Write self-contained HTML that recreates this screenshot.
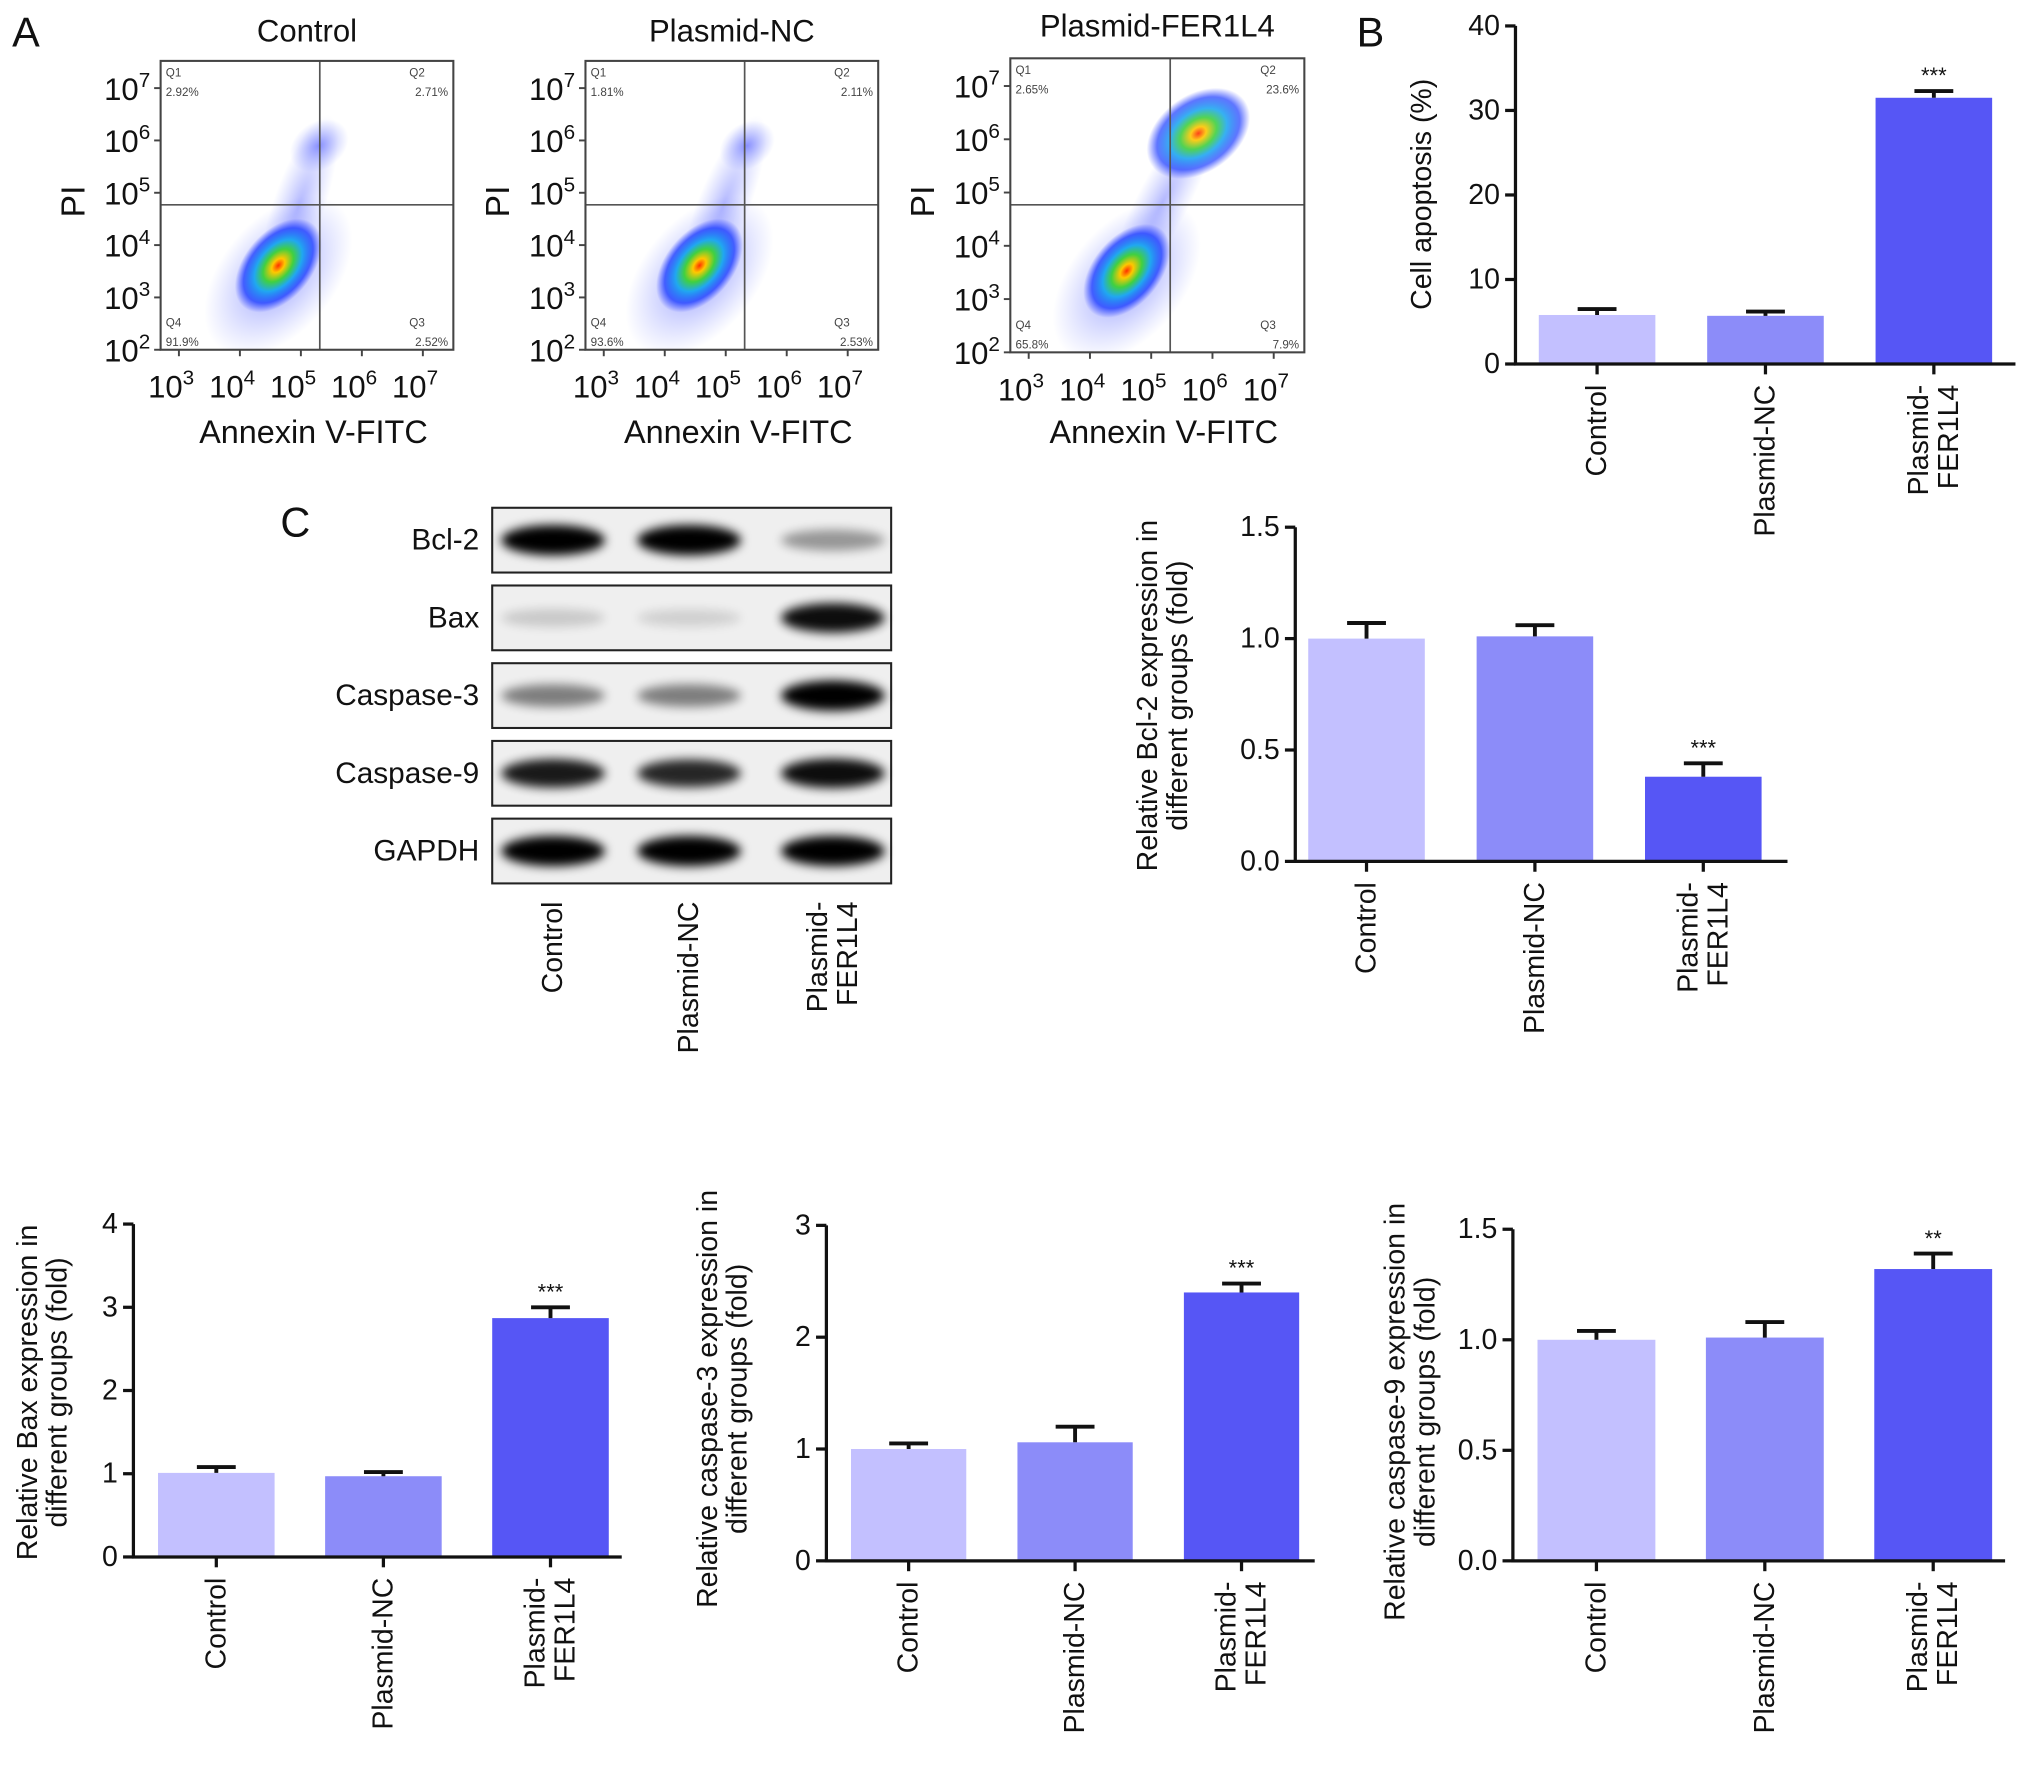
<!DOCTYPE html>
<html><head><meta charset="utf-8"><style>
html,body{margin:0;padding:0;background:#fff}
svg{display:block;font-family:"Liberation Sans",sans-serif}
</style></head><body>
<svg id="fig" width="2031" height="1765" viewBox="0 0 1568 1362.6" xmlns="http://www.w3.org/2000/svg">
<defs>
<radialGradient id="dens" cx="50%" cy="50%" r="50%">
<stop offset="0" stop-color="#ff3000"/><stop offset="0.15" stop-color="#ffc800"/>
<stop offset="0.35" stop-color="#40d040"/><stop offset="0.55" stop-color="#20a8f0"/>
<stop offset="0.8" stop-color="#2040ff" stop-opacity="0.8"/><stop offset="1" stop-color="#3040ff" stop-opacity="0"/>
</radialGradient>
<radialGradient id="halo" cx="50%" cy="50%" r="50%">
<stop offset="0" stop-color="#3a46ff" stop-opacity="0.55"/><stop offset="1" stop-color="#6070ff" stop-opacity="0"/>
</radialGradient>
<filter id="blur" x="-30%" y="-60%" width="160%" height="220%"><feGaussianBlur stdDeviation="4"/></filter>
</defs>
<g id="root"></g>
</svg>
<script>
const categories=["Control","Plasmid-NC","Plasmid-FER1L4"];
const apoptosisValues=[5.8,5.7,31.5];
const apoptosisErr=[0.7,0.5,0.8];
const apoptosisSig=["","","***"];
const bcl2Values=[1.0,1.01,0.38];
const bcl2Err=[0.07,0.05,0.06];
const bcl2Sig=["","","***"];
const baxValues=[1.01,0.97,2.87];
const baxErr=[0.07,0.05,0.13];
const baxSig=["","","***"];
const casp3Values=[1.0,1.06,2.4];
const casp3Err=[0.05,0.14,0.08];
const casp3Sig=["","","***"];
const casp9Values=[1.0,1.01,1.32];
const casp9Err=[0.04,0.07,0.07];
const casp9Sig=["","","**"];
const apoTicks=[0,10,20,30,40];
const foldTicks15=["0.0","0.5","1.0","1.5"];
const baxTicks=[0,1,2,3,4];
const casp3Ticks=[0,1,2,3];
const flowTitles=["Control","Plasmid-NC","Plasmid-FER1L4"];
const flowQ1=["2.92%","1.81%","2.65%"];
const flowQ2=["2.71%","2.11%","23.6%"];
const flowQ3=["2.52%","2.53%","7.9%"];
const flowQ4=["91.9%","93.6%","65.8%"];
const mainClusterX=[4.63,4.57,4.60];
const mainClusterY=[3.61,3.61,3.53];
const upperClusterX=[5.3,5.35,5.77];
const upperClusterY=[5.9,5.9,6.11];
const upperClusterStrength=[0.35,0.3,1.0];
const blotLabels=["Bcl-2","Bax","Caspase-3","Caspase-9","GAPDH"];
const blotIntensity=[[0.95,0.95,0.35],[0.15,0.12,0.9],[0.45,0.45,0.95],[0.85,0.8,0.9],[0.95,0.95,0.95]];
const barColors=["#c3c0ff","#8c8cf9","#5656f5"];

const NS="http://www.w3.org/2000/svg";
const root=document.getElementById('root');
function mk(tag,attrs,parent,text){const e=document.createElementNS(NS,tag);for(const k in attrs)e.setAttribute(k,attrs[k]);if(text!==undefined)e.textContent=text;(parent||root).appendChild(e);return e;}

function rotLabel(g,x,y,lines,size,name,anchor){
  const n=lines.length;
  lines.forEach((ln,i)=>{
    const dx=(i-(n-1)/2)*size*1.05;
    const t=mk('text',{transform:`translate(${x+dx},${y}) rotate(-90)`,'text-anchor':anchor||'end','dominant-baseline':'central','font-size':size,fill:'#111'},g,ln);
    
    
  });
}

function drawBar(cfg){
  const g=mk('g',{});
  
  
  const sy=v=>cfg.yBot-(v-0)/cfg.max*(cfg.yBot-cfg.yTop);
  cfg.values.forEach((v,i)=>{
    const bx=cfg.x0+cfg.off+i*cfg.step;
    const r=mk('rect',{x:bx,y:sy(v),width:cfg.barW,height:cfg.yBot-sy(v),fill:barColors[i]},g);
    
    
    const cx=bx+cfg.barW/2, top=sy(v+cfg.err[i]);
    const e=mk('path',{d:`M${cx},${sy(v)}V${top}M${cx-15},${top}H${cx+15}`,stroke:'#111','stroke-width':3,fill:'none'},g);
    
    
    if(cfg.sig[i]){const s=mk('text',{x:cx,y:top-6,'text-anchor':'middle','font-size':17,fill:'#111'},g,cfg.sig[i]);
      
      }
    mk('line',{x1:cx,x2:cx,y1:cfg.yBot,y2:cfg.yBot+8,stroke:'#111','stroke-width':2.5},g);
    rotLabel(g,cx,cfg.yBot+16,i==2?["Plasmid-","FER1L4"]:[categories[i]],22,'x-tick-label');
  });
  const ax=mk('path',{d:`M${cfg.x0},${cfg.yTop}V${cfg.yBot}H${cfg.xEnd}`,stroke:'#111','stroke-width':2.5,fill:'none'},g);
  
  
  cfg.ticks.forEach(t=>{
    const y=sy(parseFloat(t));
    mk('line',{x1:cfg.x0-8,x2:cfg.x0,y1:y,y2:y,stroke:'#111','stroke-width':2.5},g);
    const tl=mk('text',{x:cfg.x0-12,y:y,'text-anchor':'end','dominant-baseline':'central','font-size':22,fill:'#111'},g,t);
    
    
  });
  rotLabel(g,cfg.titleX,cfg.titleY,cfg.title,22,'y-axis-title','middle');
}

drawBar({name:'apoptosis-chart',x0:1170,yTop:20,yBot:281,xEnd:1556,max:40,off:18,step:130,barW:90,values:apoptosisValues,err:apoptosisErr,sig:apoptosisSig,ticks:apoTicks.map(String),title:["Cell apoptosis (%)"],titleX:1098,titleY:150});
drawBar({name:'bcl2-chart',x0:1000,yTop:407,yBot:665,xEnd:1380,max:1.5,off:10,step:130,barW:90,values:bcl2Values,err:bcl2Err,sig:bcl2Sig,ticks:foldTicks15,title:["Relative Bcl-2 expression in","different groups (fold)"],titleX:898,titleY:537});
drawBar({name:'bax-chart',x0:103,yTop:945,yBot:1202,xEnd:480,max:4,off:19,step:129,barW:90,values:baxValues,err:baxErr,sig:baxSig,ticks:baxTicks.map(String),title:["Relative Bax expression in","different groups (fold)"],titleX:33,titleY:1075});
drawBar({name:'caspase3-chart',x0:638,yTop:946,yBot:1205,xEnd:1015,max:3,off:19,step:128.5,barW:89,values:casp3Values,err:casp3Err,sig:casp3Sig,ticks:casp3Ticks.map(String),title:["Relative caspase-3 expression in","different groups (fold)"],titleX:558,titleY:1080});
drawBar({name:'caspase9-chart',x0:1168,yTop:949,yBot:1205,xEnd:1548,max:1.5,off:19,step:130,barW:91,values:casp9Values,err:casp9Err,sig:casp9Sig,ticks:foldTicks15,title:["Relative caspase-9 expression in","different groups (fold)"],titleX:1089,titleY:1090});

const flowBoxes=[{l:124,r:350,t:47,b:270},{l:452,r:678,t:47,b:270},{l:780,r:1007,t:45,b:272}];
flowBoxes.forEach((B,k)=>{
  const g=mk('g',{});
  
  
  const sx=v=>B.l+(v-2.7)/4.8*(B.r-B.l);
  const sy=v=>B.b-(v-2)/5.52*(B.b-B.t);
  const tt=mk('text',{x:(B.l+B.r)/2,y:k==2?28:32,'text-anchor':'middle','font-size':24,fill:'#111'},g,flowTitles[k]);
  
  
  const clip='clip'+k;
  const cp=mk('clipPath',{id:clip},g);mk('rect',{x:B.l,y:B.t,width:B.r-B.l,height:B.b-B.t},cp);
  const cg=mk('g',{'clip-path':`url(#${clip})`},g);
  const mx=sx(mainClusterX[k]),my=sy(mainClusterY[k]);
  const ux=sx(upperClusterX[k]),uy=sy(upperClusterY[k]);
  mk('ellipse',{cx:(mx+ux)/2,cy:(my+uy)/2,rx:Math.hypot(ux-mx,uy-my)/2+25,ry:20,fill:'url(#halo)',opacity:0.7,transform:`rotate(${Math.atan2(uy-my,ux-mx)*180/Math.PI},${(mx+ux)/2},${(my+uy)/2})`},cg);
  mk('ellipse',{cx:mx,cy:my+8,rx:72,ry:44,fill:'url(#halo)',transform:`rotate(-50,${mx},${my+8})`},cg);
  const c=mk('ellipse',{cx:mx,cy:my,rx:42,ry:26,fill:'url(#dens)',transform:`rotate(-50,${mx},${my})`},cg);
  
  
  const s=upperClusterStrength[k];
  mk('ellipse',{cx:ux,cy:uy,rx:30*s+14,ry:18*s+12,fill:s>0.5?'url(#dens)':'url(#halo)',opacity:s>0.5?0.9:1,transform:`rotate(-35,${ux},${uy})`},cg);
  const lx=sx(5.31),ly=sy(4.77);
  mk('path',{d:`M${lx},${B.t}V${B.b}M${B.l},${ly}H${B.r}`,stroke:'#555','stroke-width':1.3},g);
  const bx=mk('rect',{x:B.l,y:B.t,width:B.r-B.l,height:B.b-B.t,fill:'none',stroke:'#444','stroke-width':1.6},g);
  
  
  const q=[["Q1",flowQ1[k],B.l+4,B.t+12,'start'],["Q2",flowQ2[k],B.r-4,B.t+12,'end'],["Q4",flowQ4[k],B.l+4,B.b-18,'start'],["Q3",flowQ3[k],B.r-4,B.b-18,'end']];
  q.forEach(a=>{mk('text',{x:a[4]=='end'?a[2]-30:a[2],y:a[3],'font-size':9,fill:'#444'},g,a[0]);
    const qt=mk('text',{x:a[2],y:a[3]+15,'text-anchor':a[4],'font-size':9,fill:'#444'},g,a[1]);
    
    });
  for(let e=2;e<=7;e++){
    const y=sy(e);
    mk('line',{x1:B.l-5,x2:B.l,y1:y,y2:y,stroke:'#444','stroke-width':1.5},g);
    const t=mk('text',{x:B.l-8,y:y+9,'text-anchor':'end','font-size':24,fill:'#111'},g);
    
    
    mk('tspan',{},t,'10');mk('tspan',{dy:-10,'font-size':16},t,String(e));
  }
  for(let e=3;e<=7;e++){
    const x=sx(e);
    mk('line',{x1:x,x2:x,y1:B.b,y2:B.b+5,stroke:'#444','stroke-width':1.5},g);
    const t=mk('text',{x:x-6,y:B.b+37,'text-anchor':'middle','font-size':24,fill:'#111'},g);
    
    
    mk('tspan',{},t,'10');mk('tspan',{dy:-10,'font-size':16},t,String(e));
  }
  const xl=mk('text',{x:(B.l+B.r)/2+5,y:342,'text-anchor':'middle','font-size':25,fill:'#111'},g,'Annexin V-FITC');
  
  
  const yl=mk('text',{transform:`translate(${B.l-67},${(B.t+B.b)/2-3}) rotate(-90)`,'text-anchor':'middle','dominant-baseline':'central','font-size':26,fill:'#111'},g,'PI');
  
  
});

const wb=mk('g',{});


const laneX=[427,532,643];
blotLabels.forEach((lab,r)=>{
  const y0=392+r*60;
  const box=mk('rect',{x:380,y:y0,width:308,height:50,fill:'#efefef',stroke:'#222','stroke-width':1.6},wb);
  
  
  laneX.forEach((lx,i)=>{
    const a=blotIntensity[r][i];
    mk('ellipse',{cx:lx,cy:y0+25,rx:40,ry:6+a*6,fill:'#000',opacity:Math.min(1,a*1.05),filter:'url(#blur)'},wb);
  });
  const t=mk('text',{x:370,y:y0+25,'text-anchor':'end','dominant-baseline':'central','font-size':23,fill:'#111'},wb,lab);
  
  
});
laneX.forEach((lx,i)=>rotLabel(wb,lx,696,i==2?["Plasmid-","FER1L4"]:[categories[i]],22,'lane-label'));

[["A",20,36],["B",1058,36],["C",228,414]].forEach(p=>{const t=mk('text',{x:p[1],y:p[2],'text-anchor':'middle','font-size':32,fill:'#111'},root,p[0]);
  
  });
</script>
</body></html>
